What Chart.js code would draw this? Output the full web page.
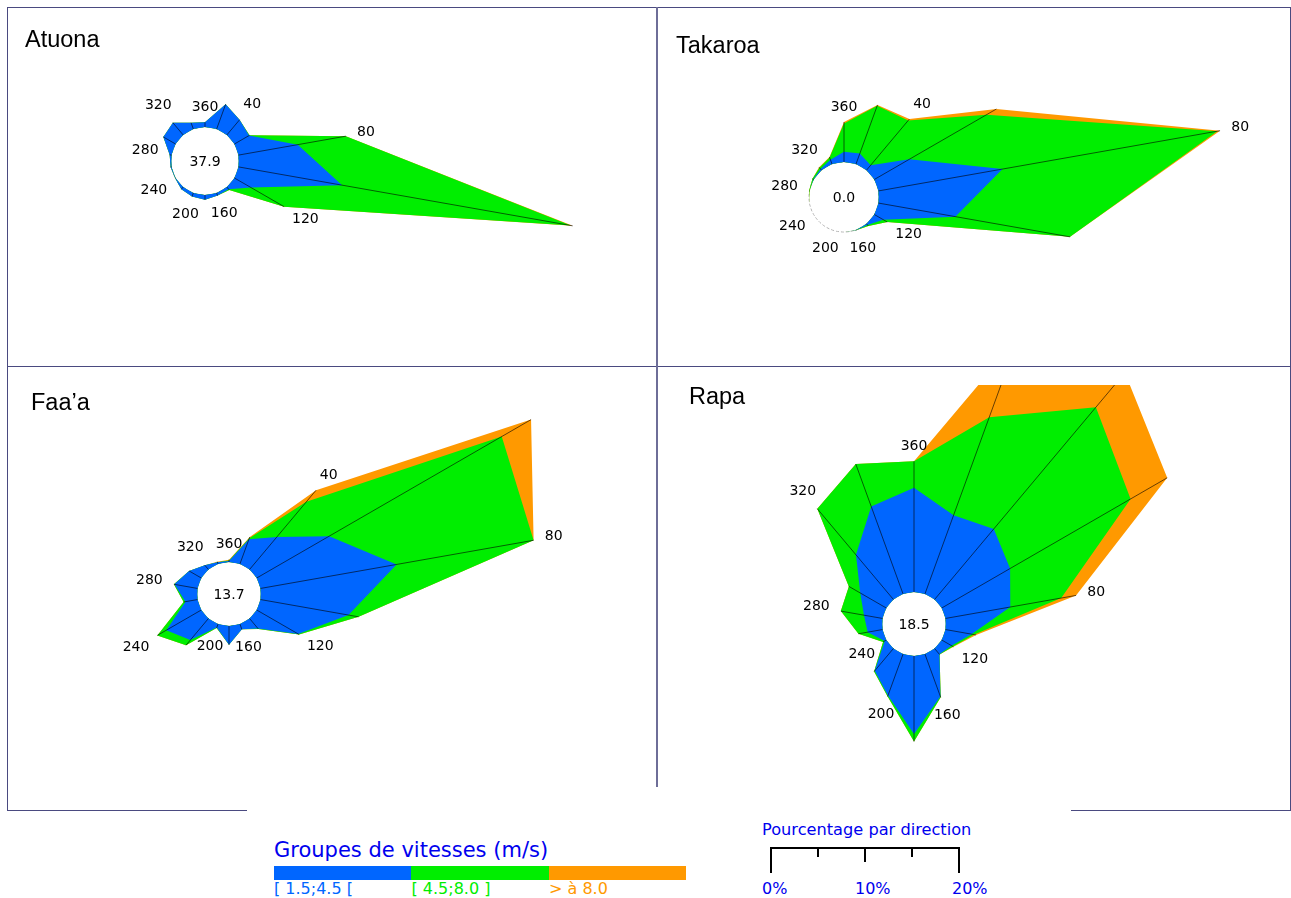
<!DOCTYPE html>
<html>
<head>
<meta charset="utf-8">
<script src="https://cdn.jsdelivr.net/npm/chart.js@4.4.1/dist/chart.umd.min.js"></script>
<style>
  body { margin: 0; width: 1291px; height: 898px; background: #fff; position: relative; overflow: hidden; font-family: 'DejaVu Sans', sans-serif; }
  .panel { position: absolute; overflow: hidden; }
  .panel canvas { position: absolute; }
  .title { position: absolute; font-family: 'Liberation Sans', Arial, sans-serif; font-size: 23.5px; color: #000; line-height: 1; white-space: nowrap; }
  .rule { position: absolute; background: #4a4a80; }
  .txt { position: absolute; white-space: nowrap; line-height: 1; }
</style>
</head>
<body>

<div class="rule" style="left:7px;top:7px;width:1284px;height:1px"></div>
<div class="rule" style="left:7px;top:7px;width:1px;height:804px"></div>
<div class="rule" style="left:1290px;top:7px;width:1px;height:804px"></div>
<div class="rule" style="left:7px;top:366px;width:1284px;height:1px"></div>
<div class="rule" style="left:656px;top:7px;width:2px;height:780px;background:#6e6e98"></div>
<div class="rule" style="left:7px;top:810px;width:240px;height:1px"></div>
<div class="rule" style="left:1071px;top:810px;width:220px;height:1px"></div>

<div id="roses"></div>

<div class="txt" style="left:274px;top:840px;font-size:21px;color:#0000ee">Groupes de vitesses (m/s)</div>
<div id="speedBar" style="position:absolute;left:274px;top:866px;height:14px;width:412px;display:flex"></div>
<div id="speedLabels"></div>

<div class="txt" style="left:762px;top:822px;font-size:16.2px;color:#0000ee">Pourcentage par direction</div>
<div id="pctBar"></div>

<script>
// compass directions, one every 20 degrees, starting at north
const directions = ['360', '20', '40', '60', '80', '100', '120', '140', '160', '180',
                    '200', '220', '240', '260', '280', '300', '320', '340'];
const shownLabels = ['40', '80', '120', '160', '200', '240', '280', '320', '360'];

const speedGroups = ['[ 1.5;4.5 [', '[ 4.5;8.0 ]', '> à 8.0'];
const groupColors = ['#0066ff', '#00ee00', '#ff9900'];

// percentage per direction for each speed group
const atuonaCalm = 37.9;
const atuonaLow  = [0.5, 2.8, 2.1, 1.8, 6.4, 11.2, 2.0, 0.3, 0.3, 0.5, 0.4, 0.3, 0.05, 0.1, 0.2, 1.5, 1.7, 0.7];
const atuonaMid  = [0, 0, 0, 0.05, 5.2, 24.7, 4.1, 0.1, 0, 0, 0, 0, 0, 0, 0, 0, 0, 0];
const atuonaHigh = [0, 0, 0, 0, 0, 0.2, 0, 0, 0, 0, 0, 0, 0, 0, 0, 0, 0, 0];

const takaroaCalm = 0.0;
const takaroaLow  = [1.1, 1.2, 0.7, 4.3, 13.4, 8.3, 1.1, 0.15, 0.03, 0, 0, 0, 0, 0, 0, 0.05, 0.15, 0.5];
const takaroaMid  = [3.0, 5.4, 6.2, 9.5, 23.2, 12.4, 0.5, 0.15, 0.02, 0, 0, 0, 0, 0, 0.05, 0.1, 0.2, 0.25];
const takaroaHigh = [0.15, 0.1, 0.2, 1.2, 0.3, 0, 0, 0, 0, 0, 0, 0, 0, 0, 0, 0, 0.05, 0.05];

const faaaCalm = 13.7;
const faaaLow  = [0.1, 2.8, 4.5, 8.9, 14.7, 9.5, 5.1, 1.4, 0.6, 2.0, 0.4, 3.0, 4.3, 1.3, 2.5, 1.5, 0.6, 0.2];
const faaaMid  = [0.05, 0.1, 4.9, 21.2, 14.8, 1.1, 0.1, 0.05, 0, 0, 0.05, 0.7, 1.1, 0.2, 0.05, 0, 0, 0];
const faaaHigh = [0.1, 0.15, 1.6, 3.6, 0, 0, 0, 0, 0, 0, 0, 0, 0, 0, 0, 0, 0, 0.05];

const rapaCalm = 18.5;
const rapaLow  = [11.1, 8.9, 9.8, 8.4, 7.0, 2.8, 1.2, 0.8, 4.8, 8.3, 4.7, 3.1, 0.2, 1.6, 2.0, 3.2, 6.2, 9.9];
const rapaMid  = [2.8, 11.1, 16.9, 14.8, 5.5, 0.3, 0.2, 0.03, 0.1, 0.8, 0.1, 0.1, 0.2, 1.0, 2.5, 1.4, 6.4, 4.8];
const rapaHigh = [0, 9.0, 4.8, 4.5, 1.6, 0.2, 0.05, 0, 0, 0, 0, 0, 0, 0, 0, 0, 0, 0];

const pctTicks = ['0%', '10%', '20%'];

// layout: 9.4 px for 1 %
const PX_PER_PCT = 9.4;
const R = 420;

const stations = [
  { name: 'Atuona', calm: atuonaCalm, low: atuonaLow, mid: atuonaMid, high: atuonaHigh,
    box: [8, 8, 648, 358], cx: 205, cy: 161, hole: 34, title: [25, 29] },
  { name: 'Takaroa', calm: takaroaCalm, low: takaroaLow, mid: takaroaMid, high: takaroaHigh,
    box: [658, 8, 632, 358], cx: 844, cy: 197, hole: 35, title: [676, 35] },
  { name: 'Faa’a', calm: faaaCalm, low: faaaLow, mid: faaaMid, high: faaaHigh,
    box: [8, 367, 648, 443], cx: 229, cy: 594, hole: 32, title: [31, 392] },
  { name: 'Rapa', calm: rapaCalm, low: rapaLow, mid: rapaMid, high: rapaHigh,
    box: [658, 385, 632, 402], cx: 914, cy: 624, hole: 32, title: [689, 386] }
];

const rosePlugin = {
  id: 'rose',
  beforeDatasetsDraw(chart) {
    const s = chart.scales.r, ctx = chart.ctx;
    ctx.save();
    ctx.beginPath();
    ctx.arc(s.xCenter, s.yCenter, s.getDistanceFromCenterForValue(0), 0, 2 * Math.PI);
    ctx.setLineDash([3, 2]);
    ctx.strokeStyle = '#b0b0b0';
    ctx.lineWidth = 1;
    ctx.stroke();
    ctx.restore();
  },
  afterDatasetsDraw(chart, args, opts) {
    const s = chart.scales.r, ctx = chart.ctx;
    const outer = chart.data.datasets[2].data;
    ctx.save();
    ctx.strokeStyle = '#000';
    ctx.lineWidth = 0.6;
    outer.forEach((v, i) => {
      if (v <= 0) return;
      const a = s.getPointPositionForValue(i, 0);
      const b = s.getPointPositionForValue(i, v);
      ctx.beginPath();
      ctx.moveTo(a.x, a.y);
      ctx.lineTo(b.x, b.y);
      ctx.stroke();
    });
    ctx.beginPath();
    ctx.arc(s.xCenter, s.yCenter, s.getDistanceFromCenterForValue(0) - 0.7, 0, 2 * Math.PI);
    ctx.fillStyle = '#fff';
    ctx.fill();

    ctx.fillStyle = '#000';
    ctx.font = '14px "DejaVu Sans"';
    ctx.textAlign = 'center';
    ctx.textBaseline = 'middle';
    ctx.fillText(opts.calm.toFixed(1), s.xCenter, s.yCenter + 1);

    chart.data.labels.forEach((lab, i) => {
      if (!shownLabels.includes(lab)) return;
      const ang = s.getIndexAngle(i);
      const w = ctx.measureText(lab).width;
      const d = s.getDistanceFromCenterForValue(outer[i]) + 11 +
                Math.abs(Math.sin(ang)) * w / 2 + Math.abs(Math.cos(ang)) * 4;
      const p = s.getPointPosition(i, d);
      ctx.fillText(lab, p.x, p.y);
    });
    ctx.restore();
  }
};

const makeRose = (st) => {
  const panel = document.createElement('div');
  panel.className = 'panel';
  const [bx, by, bw, bh] = st.box;
  panel.style.cssText = `left:${bx}px;top:${by}px;width:${bw}px;height:${bh}px`;
  const canvas = document.createElement('canvas');
  canvas.width = 2 * R;
  canvas.height = 2 * R;
  canvas.style.left = (st.cx - R - bx) + 'px';
  canvas.style.top = (st.cy - R - by) + 'px';
  panel.appendChild(canvas);
  document.getElementById('roses').appendChild(panel);

  const title = document.createElement('div');
  title.className = 'title';
  title.style.left = st.title[0] + 'px';
  title.style.top = (st.title[1] - 1) + 'px';
  title.textContent = st.name;
  document.body.appendChild(title);

  // stacked rings: each dataset is the running total
  const c1 = st.low.slice();
  const c2 = c1.map((v, i) => v + st.mid[i]);
  const c3 = c2.map((v, i) => v + st.high[i]);
  const min = -st.hole / PX_PER_PCT;

  return new Chart(canvas.getContext('2d'), {
    type: 'radar',
    data: {
      labels: directions,
      datasets: [
        { label: speedGroups[0], data: c1, backgroundColor: groupColors[0], fill: 'origin' },
        { label: speedGroups[1], data: c2, backgroundColor: groupColors[1], fill: 'origin' },
        { label: speedGroups[2], data: c3, backgroundColor: groupColors[2], fill: 'origin' }
      ]
    },
    options: {
      responsive: false,
      animation: false,
      layout: { padding: 0 },
      elements: {
        line: { borderWidth: 0, tension: 0 },
        point: { radius: 0, hoverRadius: 0 }
      },
      plugins: {
        legend: { display: false },
        tooltip: { enabled: false },
        rose: { calm: st.calm }
      },
      scales: {
        r: {
          min: min,
          max: min + R / PX_PER_PCT,
          ticks: { display: false },
          grid: { display: false },
          angleLines: { display: false },
          pointLabels: { display: false }
        }
      }
    },
    plugins: [rosePlugin]
  });
};

stations.forEach(makeRose);

// legend: speed groups
const bar = document.getElementById('speedBar');
const labs = document.getElementById('speedLabels');
speedGroups.forEach((g, i) => {
  const seg = document.createElement('div');
  seg.style.cssText = `flex:1;background:${groupColors[i]}`;
  bar.appendChild(seg);
  const t = document.createElement('div');
  t.className = 'txt';
  t.style.cssText = `left:${274 + i * 137.5}px;top:881px;font-size:16px;color:${groupColors[i]}`;
  t.textContent = g;
  labs.appendChild(t);
});

// legend: percentage scale bar
const pb = document.getElementById('pctBar');
const x0 = 770, unit = 188 / 4;
pb.innerHTML += `<div style="position:absolute;left:${x0}px;top:847px;width:189px;height:2px;background:#000"></div>`;
[0, 1, 2, 3, 4].forEach(k => {
  const len = (k === 0 || k === 4) ? 26 : (k === 2 ? 15 : 10);
  pb.innerHTML += `<div style="position:absolute;left:${x0 + k * unit}px;top:847px;width:2px;height:${len}px;background:#000"></div>`;
});
const pctLeft = [762, 855, 952];
pctTicks.forEach((t, k) => {
  pb.innerHTML += `<div class="txt" style="left:${pctLeft[k]}px;top:881px;font-size:16px;color:#0000ee">${t}</div>`;
});
</script>
</body>
</html>
